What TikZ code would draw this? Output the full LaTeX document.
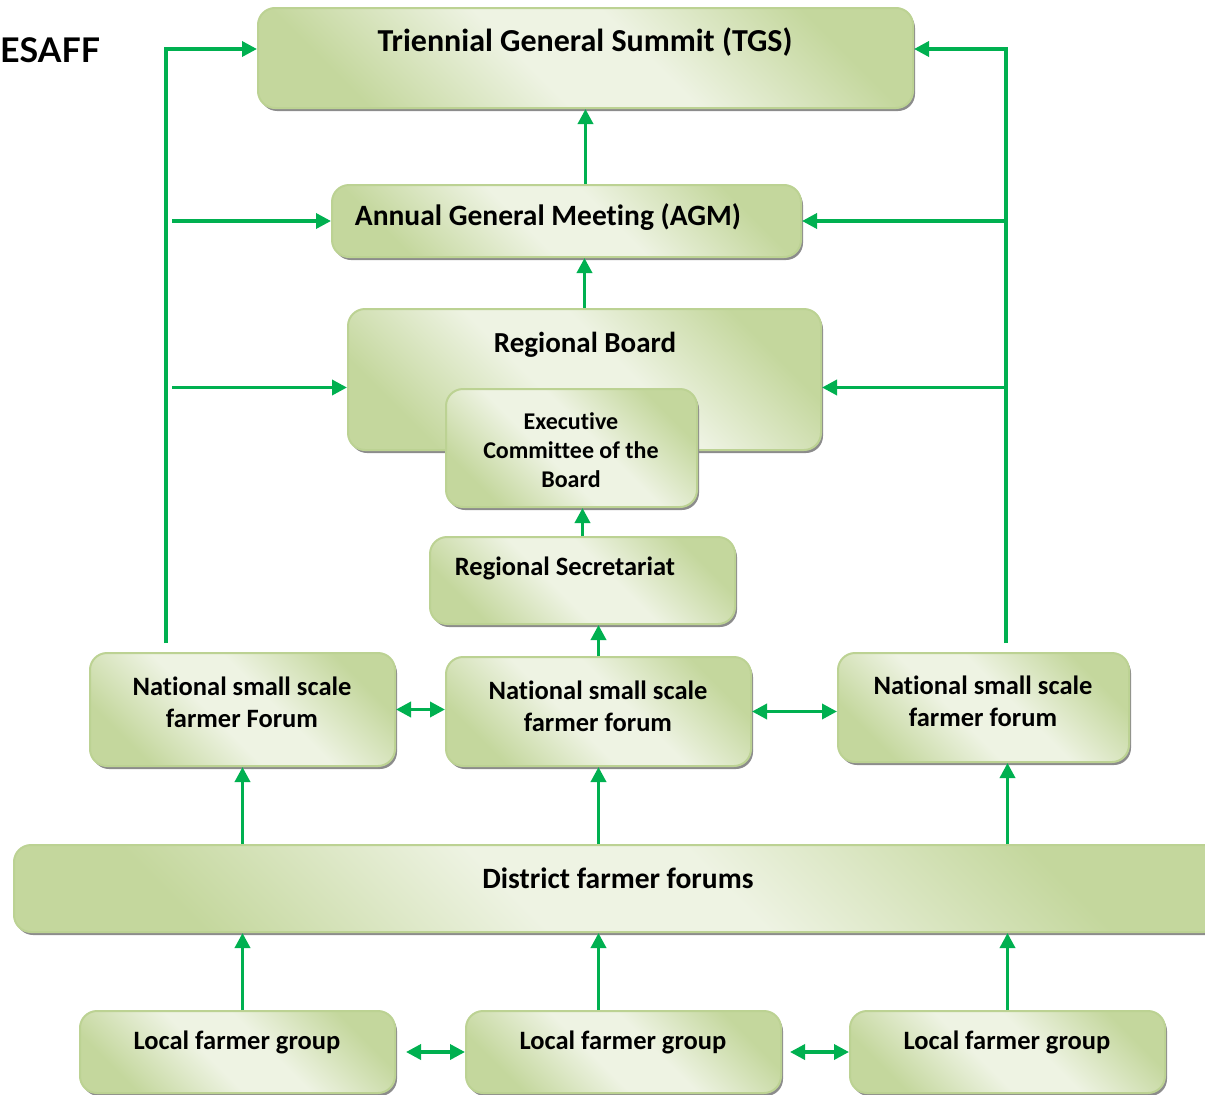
\documentclass[tikz,border=0pt]{standalone}
\usepackage{fontspec}
\setmainfont{Carlito}[Ligatures=NoCommon]
\newfontfamily\logofont{Lato}
\usetikzlibrary{arrows.meta,shadows}
\definecolor{boxLight}{HTML}{EEF3E3}
\definecolor{boxDark}{HTML}{C4D79D}
\definecolor{boxBorder}{HTML}{BCD293}
\definecolor{arrowGreen}{HTML}{00B050}
\pgfdeclareverticalshading{boxShade}{100bp}{color(0bp)=(boxDark); color(25bp)=(boxDark);
  color(44bp)=(boxLight); color(56bp)=(boxLight); color(75bp)=(boxDark); color(100bp)=(boxDark)}

\begin{document}
\begin{tikzpicture}
[x=1pt,y=-1pt,
  boxDecorate/.style={shape=rectangle,rounded corners=17pt,draw=boxBorder,line width=2pt,
    shading=boxShade,shading angle=-45,
    drop shadow={shadow xshift=2pt,shadow yshift=-3pt,fill=black!45,opacity=1}},
  textDecorate/.style={font=\bfseries\fontsize{26.5}{32}\selectfont,align=center,inner sep=0pt},
  arrowDecorate/.style={draw=arrowGreen,line width=3.5pt,-{Triangle[length=15pt,width=15pt]}},
  bothDecorate/.style={arrowDecorate,{Triangle[length=15pt,width=15pt]}-{Triangle[length=15pt,width=15pt]}}]
\path[use as bounding box,clip] (0,0) rectangle (1205,1095);
%% boxes
\foreach \nodename/\x/\y/\w/\h in {
  tgs/585.5/58/655/100, agm/566.5/221/469/72, rb/584.5/379.5/473/141,
  exec/571.5/448/251/118, sec/582.5/580.5/305/87,
  natA/242.5/709.5/305/113, natB/598.5/711.5/305/109, natC/983.5/707.5/291/109,
  district/617/888.5/1206/87,
  locA/237.5/1052/315/82, locB/623.5/1052/315/82, locC/1007.5/1052/315/82}
{
  \node (\nodename) at (\x,\y) [boxDecorate,minimum width=\w,minimum height=\h] {};
}
%% texts
\node (logo) at (0,50) [anchor=west,inner sep=0pt,font=\logofont\bfseries\fontsize{34}{34}\selectfont] {ESAFF};
\node (tgsText) at (585,42) [textDecorate,font=\bfseries\fontsize{32}{32}\selectfont] {Triennial General Summit (TGS)};
\node (agmText) at (548,217) [textDecorate,font=\bfseries\fontsize{29.5}{32}\selectfont] {Annual General Meeting (AGM)};
\node (rbText) at (585,345) [textDecorate,font=\bfseries\fontsize{29}{32}\selectfont] {Regional Board};
\node (execText) at (571,450) [textDecorate,font=\bfseries\fontsize{24}{29}\selectfont] {Executive\\Committee of the\\Board};
\node (secText) at (565,568) [textDecorate] {Regional Secretariat};
\foreach \nodename/\x/\y/\label in {
  natA/242/702/{National small scale\\farmer Forum},
  natB/598/706/{National small scale\\farmer forum},
  natC/983/701/{National small scale\\farmer forum},
  locA/237/1042/{Local farmer group},
  locB/623/1042/{Local farmer group},
  locC/1007/1042/{Local farmer group}}
{
  \node (\nodename Text) at (\x,\y) [textDecorate] {\label};
}
\node (districtText) at (618,878) [textDecorate,font=\bfseries\fontsize{29.5}{32}\selectfont] {District farmer forums};
%% rails
\coordinate (leftFoot) at (166,643);
\coordinate (rightFoot) at (1006,643);
\coordinate (rail) at (0,49);
\coordinate (rbLeft) at ([yshift=-8pt]rb.west);
\coordinate (rbRight) at ([yshift=-8pt]rb.east);
%% arrows
\draw[arrowDecorate] (agm.north -| tgs.south) -- (tgs.south);
\foreach \lower/\upper in {rb/agm, sec/exec, natB/sec}
  \draw[arrowDecorate] (\lower.north) -- (\lower.north |- \upper.south);
\foreach \col/\upper in {natA/natA, natB/natB, locC/natC}
  \draw[arrowDecorate] (\col.south |- district.north) -- (\col.south |- \upper.south);
\foreach \col/\lower in {natA/locA, natB/locB, locC/locC}
  \draw[arrowDecorate] (\col.south |- \lower.north) -- (\col.south |- district.south);
\draw[arrowDecorate] (leftFoot) |- (tgs.west |- rail);
\draw[arrowDecorate] (rightFoot) |- (tgs.east |- rail);
\draw[arrowDecorate,shorten <=6pt] (leftFoot |- agm.west) -- (agm.west);
\draw[arrowDecorate,shorten <=6pt] (leftFoot |- rbLeft) -- (rbLeft);
\draw[arrowDecorate] (rightFoot |- agm.east) -- (agm.east);
\draw[arrowDecorate] (rightFoot |- rbRight) -- (rbRight);
\draw[bothDecorate] (natA.east) -- (natA.east -| natB.west);
\draw[bothDecorate] (natB.east) -- (natB.east -| natC.west);
\draw[bothDecorate,shorten <=10pt] (locA.east) -- (locA.east -| locB.west);
\draw[bothDecorate,shorten <=8pt] (locB.east) -- (locB.east -| locC.west);
\end{tikzpicture}
\end{document}
